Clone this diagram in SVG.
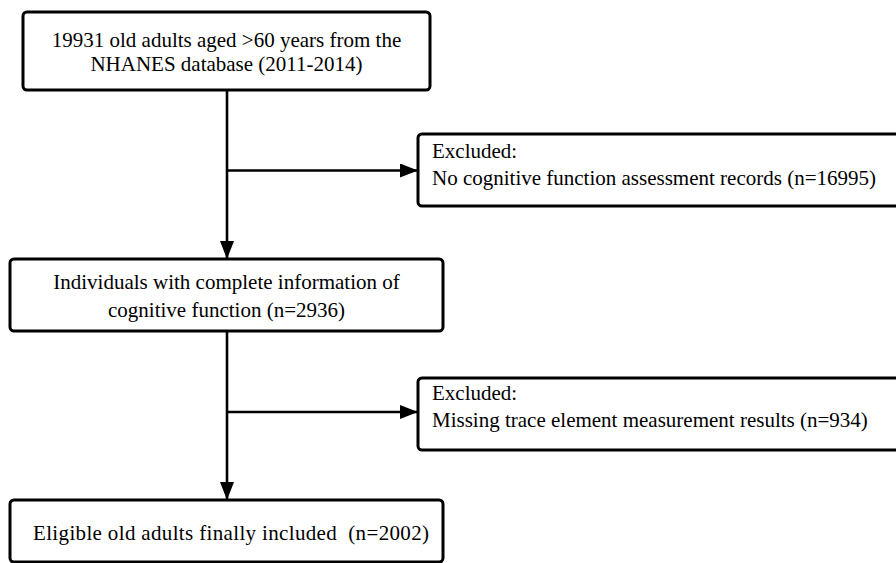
<svg xmlns="http://www.w3.org/2000/svg" width="896" height="563" viewBox="0 0 896 563">
<style>
.box{fill:#fff;stroke:#000;stroke-width:3}
.t{font-family:"Liberation Serif","Times New Roman",serif;font-size:21px;fill:#000}
.c{text-anchor:middle}
.ln{stroke:#000;stroke-width:2.6;fill:none}
</style>
<defs>
<marker id="ah" markerWidth="18" markerHeight="14" refX="18" refY="7" orient="auto" markerUnits="userSpaceOnUse">
<path d="M0,0 L18,7 L0,14 Z" fill="#000"/>
</marker>
</defs>
<rect width="896" height="563" fill="#fff"/>
<g id="connectors">
<line class="ln" x1="227" y1="90" x2="227" y2="259" marker-end="url(#ah)"/>
<line class="ln" x1="227" y1="170.5" x2="418" y2="170.5" marker-end="url(#ah)"/>
<line class="ln" x1="227" y1="331" x2="227" y2="500" marker-end="url(#ah)"/>
<line class="ln" x1="227" y1="412" x2="418" y2="412" marker-end="url(#ah)"/>
</g>
<g id="n1">
<rect class="box" x="23" y="12" width="407" height="78" rx="4"/>
<text class="t c" x="226.5" y="47">19931 old adults aged &gt;60 years from the</text>
<text class="t c" x="226.5" y="71">NHANES database (2011-2014)</text>
</g>
<g id="n2">
<rect class="box" x="418" y="134" width="490" height="72" rx="4"/>
<text class="t" x="432" y="158">Excluded:</text>
<text class="t" x="432" y="185">No cognitive function assessment records (n=16995)</text>
</g>
<g id="n3">
<rect class="box" x="10" y="259" width="433" height="72" rx="4"/>
<text class="t c" x="226.5" y="289">Individuals with complete information of</text>
<text class="t c" x="226.5" y="317">cognitive function (n=2936)</text>
</g>
<g id="n4">
<rect class="box" x="418" y="378" width="490" height="72" rx="4"/>
<text class="t" x="432" y="400">Excluded:</text>
<text class="t" x="432" y="427">Missing trace element measurement results (n=934)</text>
</g>
<g id="n5">
<rect class="box" x="10" y="500" width="433" height="62" rx="4"/>
<text class="t" x="33" y="540" textLength="396" lengthAdjust="spacing">Eligible old adults finally included&#160; (n=2002)</text>
</g>
</svg>
